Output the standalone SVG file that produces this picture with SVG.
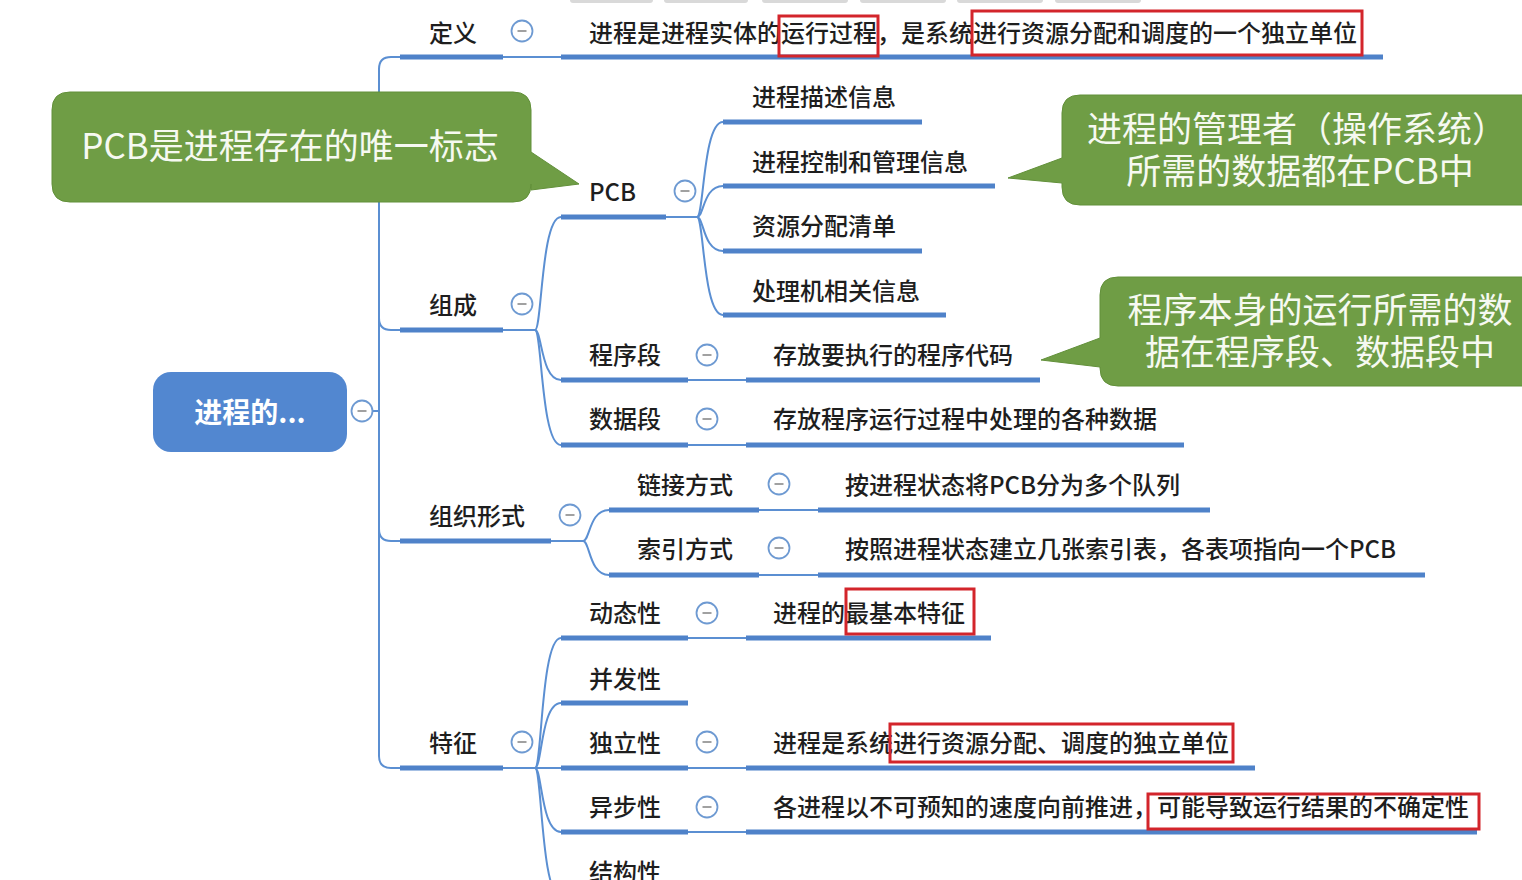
<svg xmlns="http://www.w3.org/2000/svg" width="1522" height="880" viewBox="0 0 1522 880">
<style>
.lbl{font-family:"Noto Sans CJK SC","Noto Sans",sans-serif;font-size:24px;fill:#1e1e1e;font-weight:500}
.root{font-family:"Noto Sans CJK SC","Noto Sans",sans-serif;font-size:28px;fill:#fff;font-weight:bold}
.ul{stroke:#4f82c9;stroke-width:5;fill:none}
.cn{stroke:#5b8fd2;stroke-width:2;fill:none}
.tg circle{fill:#fff;stroke:#6e9ad2;stroke-width:1.8}
.tg line{stroke:#8a8a8a;stroke-width:1.6}
.cal{fill:#6f9d45;stroke:#62903a;stroke-width:1}
.calt{font-family:"Noto Sans CJK SC","Noto Sans",sans-serif;fill:#f6f9f1;font-weight:normal;font-size:35px}
.red{fill:none;stroke:#d3252b;stroke-width:3}
.tab{fill:#d9d9d9}
</style>
<defs>
<g id="tog" class="tg"><circle cx="0" cy="0" r="10.5"/><line x1="-4.5" y1="0" x2="4.5" y2="0"/></g>
</defs>
<rect width="1522" height="880" fill="#fff"/>
<g id="tabs">
<rect class="tab" x="570" y="-6" width="83" height="9" rx="3"/>
<rect class="tab" x="664" y="-6" width="84" height="9" rx="3"/>
<rect class="tab" x="762" y="-6" width="86" height="9" rx="3"/>
<rect class="tab" x="860" y="-6" width="86" height="9" rx="3"/>
<rect class="tab" x="957" y="-6" width="86" height="9" rx="3"/>
<rect class="tab" x="1055" y="-6" width="86" height="9" rx="3"/>
</g>
<g id="connectors">
<path class="cn" d="M373,411 H379"/>
<path class="cn" d="M400,57 H391 Q379,57 379,69 V756 Q379,768 391,768 H400"/>
<path class="cn" d="M379,318 Q379,330 391,330 H400"/>
<path class="cn" d="M379,529 Q379,541 391,541 H400"/>
<path class="cn" d="M503,57 H561"/>
<path class="cn" d="M503,330 H535"/>
<path class="cn" d="M535,330 C542,330 541,217 561,217"/>
<path class="cn" d="M535,330 C542,330 541,380 561,380"/>
<path class="cn" d="M535,330 C542,330 541,445 561,445"/>
<path class="cn" d="M666,217 H697"/>
<path class="cn" d="M697,217 C704,217 703,122 723,122"/>
<path class="cn" d="M697,217 C704,217 703,186 723,186"/>
<path class="cn" d="M697,217 C704,217 703,251 723,251"/>
<path class="cn" d="M697,217 C704,217 703,315 723,315"/>
<path class="cn" d="M688,380 H746"/>
<path class="cn" d="M688,445 H746"/>
<path class="cn" d="M551,541 H583"/>
<path class="cn" d="M583,541 C590,541 589,510 609,510"/>
<path class="cn" d="M583,541 C590,541 589,575 609,575"/>
<path class="cn" d="M759,510 H818"/>
<path class="cn" d="M759,575 H818"/>
<path class="cn" d="M503,768 H561"/>
<path class="cn" d="M535,768 C542,768 541,638 561,638"/>
<path class="cn" d="M535,768 C542,768 541,703 561,703"/>
<path class="cn" d="M535,768 C542,768 541,832 561,832"/>
<path class="cn" d="M535,768 C542,768 541,897 561,897"/>
<path class="cn" d="M688,638 H746"/>
<path class="cn" d="M688,768 H746"/>
<path class="cn" d="M688,832 H746"/>
</g>
<g id="callout-pcb">
<path class="cal" d="M70,92 H513 Q531,92 531,110 V152 L579,184 L531,190 V184 Q531,202 513,202 H70 Q52,202 52,184 V110 Q52,92 70,92 Z"/>
<text class="calt" x="290" y="159" text-anchor="middle">PCB是进程存在的唯一标志</text>
</g>
<g id="callout-os">
<path class="cal" d="M1080,95 H1540 V205 H1080 Q1062,205 1062,187 V183 L1008,178 L1062,158 V113 Q1062,95 1080,95 Z"/>
<text class="calt" x="1297" y="142" text-anchor="middle">进程的管理者（操作系统）</text>
<text class="calt" x="1300" y="184" text-anchor="middle">所需的数据都在PCB中</text>
</g>
<g id="callout-prog">
<path class="cal" d="M1118,277 H1540 V386 H1118 Q1100,386 1100,368 V367 L1041,360 L1100,338 V295 Q1100,277 1118,277 Z"/>
<text class="calt" x="1320" y="323" text-anchor="middle">程序本身的运行所需的数</text>
<text class="calt" x="1320" y="365" text-anchor="middle">据在程序段、数据段中</text>
</g>
<g id="root">
<rect x="153" y="372" width="194" height="80" rx="18" fill="#5287d0"/>
<text class="root" x="250" y="423" text-anchor="middle">进程的...</text>
<use href="#tog" x="362" y="411"/>
</g>
<g id="n-def">
<text class="lbl" x="429" y="42">定义</text>
<line class="ul" x1="400" y1="57" x2="503" y2="57"/>
<use href="#tog" x="522" y="31"/>
</g>
<g id="n-def-c">
<text class="lbl" x="589" y="42">进程是进程实体的运行过程，是系统进行资源分配和调度的一个独立单位</text>
<line class="ul" x1="561" y1="57" x2="1383" y2="57"/>
<rect class="red" x="779" y="16" width="99" height="40"/>
<rect class="red" x="972" y="11" width="390" height="44"/>
</g>
<g id="n-comp">
<text class="lbl" x="429" y="314">组成</text>
<line class="ul" x1="400" y1="330" x2="503" y2="330"/>
<use href="#tog" x="522" y="304"/>
</g>
<g id="n-pcb">
<text class="lbl" x="589" y="201" font-family="Noto Sans, sans-serif">PCB</text>
<line class="ul" x1="561" y1="217" x2="666" y2="217"/>
<use href="#tog" x="685" y="191"/>
</g>
<g id="n-pcb1"><text class="lbl" x="752" y="106">进程描述信息</text><line class="ul" x1="723" y1="122" x2="922" y2="122"/></g>
<g id="n-pcb2"><text class="lbl" x="752" y="171">进程控制和管理信息</text><line class="ul" x1="723" y1="186" x2="995" y2="186"/></g>
<g id="n-pcb3"><text class="lbl" x="752" y="235">资源分配清单</text><line class="ul" x1="723" y1="251" x2="922" y2="251"/></g>
<g id="n-pcb4"><text class="lbl" x="752" y="300">处理机相关信息</text><line class="ul" x1="723" y1="315" x2="946" y2="315"/></g>
<g id="n-code">
<text class="lbl" x="589" y="364">程序段</text>
<line class="ul" x1="561" y1="380" x2="688" y2="380"/>
<use href="#tog" x="707" y="355"/>
</g>
<g id="n-code-c"><text class="lbl" x="773" y="364">存放要执行的程序代码</text><line class="ul" x1="746" y1="380" x2="1040" y2="380"/></g>
<g id="n-data">
<text class="lbl" x="589" y="428">数据段</text>
<line class="ul" x1="561" y1="445" x2="688" y2="445"/>
<use href="#tog" x="707" y="419"/>
</g>
<g id="n-data-c"><text class="lbl" x="773" y="428">存放程序运行过程中处理的各种数据</text><line class="ul" x1="746" y1="445" x2="1184" y2="445"/></g>
<g id="n-org">
<text class="lbl" x="429" y="525">组织形式</text>
<line class="ul" x1="400" y1="541" x2="551" y2="541"/>
<use href="#tog" x="570" y="515"/>
</g>
<g id="n-link">
<text class="lbl" x="637" y="494">链接方式</text>
<line class="ul" x1="609" y1="510" x2="759" y2="510"/>
<use href="#tog" x="779" y="484"/>
</g>
<g id="n-link-c"><text class="lbl" x="845" y="494">按进程状态将PCB分为多个队列</text><line class="ul" x1="818" y1="510" x2="1210" y2="510"/></g>
<g id="n-index">
<text class="lbl" x="637" y="558">索引方式</text>
<line class="ul" x1="609" y1="575" x2="759" y2="575"/>
<use href="#tog" x="779" y="548"/>
</g>
<g id="n-index-c"><text class="lbl" x="845" y="558">按照进程状态建立几张索引表，各表项指向一个PCB</text><line class="ul" x1="818" y1="575" x2="1425" y2="575"/></g>
<g id="n-feat">
<text class="lbl" x="429" y="752">特征</text>
<line class="ul" x1="400" y1="768" x2="503" y2="768"/>
<use href="#tog" x="522" y="742"/>
</g>
<g id="n-dyn">
<text class="lbl" x="589" y="622">动态性</text>
<line class="ul" x1="561" y1="638" x2="688" y2="638"/>
<use href="#tog" x="707" y="613"/>
</g>
<g id="n-dyn-c">
<text class="lbl" x="773" y="622">进程的最基本特征</text>
<line class="ul" x1="746" y1="638" x2="991" y2="638"/>
<rect class="red" x="846" y="589" width="128" height="45"/>
</g>
<g id="n-conc">
<text class="lbl" x="589" y="688">并发性</text>
<line class="ul" x1="561" y1="703" x2="688" y2="703"/>
</g>
<g id="n-ind">
<text class="lbl" x="589" y="752">独立性</text>
<line class="ul" x1="561" y1="768" x2="688" y2="768"/>
<use href="#tog" x="707" y="742"/>
</g>
<g id="n-ind-c">
<text class="lbl" x="773" y="752">进程是系统进行资源分配、调度的独立单位</text>
<line class="ul" x1="746" y1="768" x2="1255" y2="768"/>
<rect class="red" x="890" y="724" width="343" height="38"/>
</g>
<g id="n-async">
<text class="lbl" x="589" y="816">异步性</text>
<line class="ul" x1="561" y1="832" x2="688" y2="832"/>
<use href="#tog" x="707" y="807"/>
</g>
<g id="n-async-c">
<text class="lbl" x="773" y="816">各进程以不可预知的速度向前推进，可能导致运行结果的不确定性</text>
<line class="ul" x1="746" y1="832" x2="1477" y2="832"/>
<rect class="red" x="1148" y="794" width="331" height="35"/>
</g>
<g id="n-struct">
<text class="lbl" x="589" y="881">结构性</text>
</g>
</svg>
